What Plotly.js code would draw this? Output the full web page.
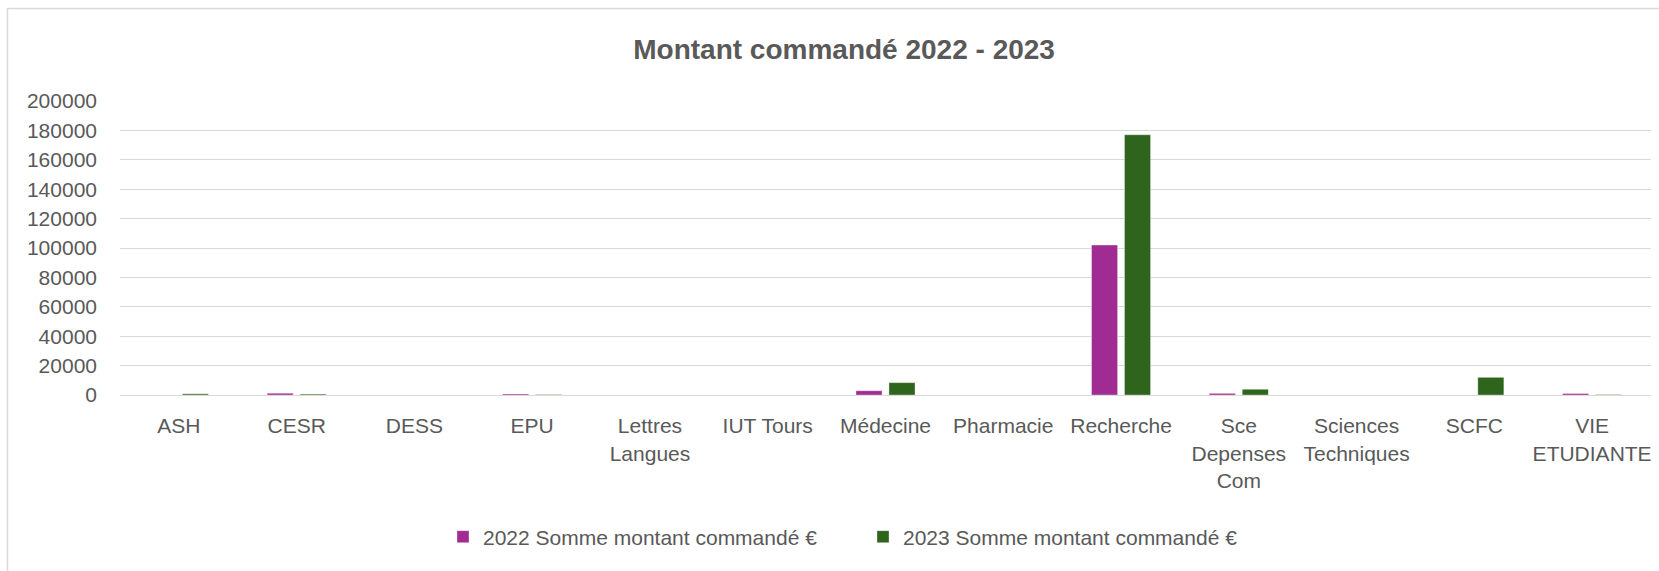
<!DOCTYPE html>
<html>
<head>
<meta charset="utf-8">
<script src="https://cdn.plot.ly/plotly-3.0.1.min.js"></script>
<style>html,body{margin:0;padding:0;background:#fff;}#chart{width:1659px;height:571px;}</style>
</head>
<body>
<div id="chart"></div>
<script>
const categories = ['ASH','CESR','DESS','EPU','Lettres<br>Langues','IUT Tours','Médecine','Pharmacie','Recherche','Sce<br>Depenses<br>Com','Sciences<br>Techniques','SCFC','VIE<br>ETUDIANTE'];
const values2022 = [0, 1200, 0, 700, 0, 0, 2900, 0, 102000, 1100, 0, 0, 1000];
const values2023 = [800, 600, 0, 300, 0, 0, 8400, 0, 177000, 3900, 0, 12000, 300];
const seriesNames = ['2022 Somme montant commandé €', '2023 Somme montant commandé €'];
const yTicks = [0, 20000, 40000, 60000, 80000, 100000, 120000, 140000, 160000, 180000, 200000];

const FONT = 'Liberation Sans, Arial, sans-serif';
const GRAY = '#595959';

const traces = [
  {type:'bar', name:seriesNames[0], x:categories, y:values2022, legend:'legend',
   marker:{color:'#A02B93', line:{color:'rgba(255,255,255,0.35)', width:1}}, hoverinfo:'x+y'},
  {type:'bar', name:seriesNames[1], x:categories, y:values2023, legend:'legend2',
   marker:{color:'#2F641C', line:{color:'rgba(255,255,255,0.35)', width:1}}, hoverinfo:'x+y'}
];

const layout = {
  width:1659, height:571,
  margin:{l:120, r:8, t:101, b:176},
  paper_bgcolor:'#fff', plot_bgcolor:'#fff',
  font:{family:FONT, color:GRAY, size:21},
  title:{text:'<b>Montant commandé 2022 - 2023</b>', font:{family:FONT, size:28, color:GRAY},
         x:0.5088, xanchor:'center', xref:'container', y:1-49/571, yanchor:'middle', yref:'container'},
  barmode:'group', bargap:0.44, bargroupgap:0.21,
  xaxis:{type:'category', tickfont:{size:21, color:GRAY}, ticks:'', showgrid:false,
         showline:true, linecolor:'#d9d9d9', linewidth:1, ticklabelstandoff:12, automargin:false},
  yaxis:{range:[0,200000], tickvals:yTicks, ticktext:yTicks.map(String), tickfont:{size:21, color:GRAY},
         ticks:'', showgrid:true, gridcolor:'#d9d9d9', gridwidth:1, zeroline:false, showline:false,
         ticklabelstandoff:22, automargin:false},
  legend:{orientation:'h', xref:'container', yref:'container', x:443/1659, xanchor:'left',
          y:1-537/571, yanchor:'middle', font:{size:21, color:GRAY}, bgcolor:'rgba(0,0,0,0)'},
  legend2:{orientation:'h', xref:'container', yref:'container', x:863/1659, xanchor:'left',
          y:1-537/571, yanchor:'middle', font:{size:21, color:GRAY}, bgcolor:'rgba(0,0,0,0)'},
  showlegend:true,
  shapes:[{type:'rect', xref:'paper', yref:'paper', x0:(7.5-120)/1531, x1:(1680-120)/1531,
           y0:(395-590)/294, y1:(395-8.5)/294, line:{color:'#d9d9d9', width:1.5}, fillcolor:'rgba(0,0,0,0)', layer:'below'}]
};

Plotly.newPlot('chart', traces, layout, {displayModeBar:false, staticPlot:true});
</script>
</body>
</html>
